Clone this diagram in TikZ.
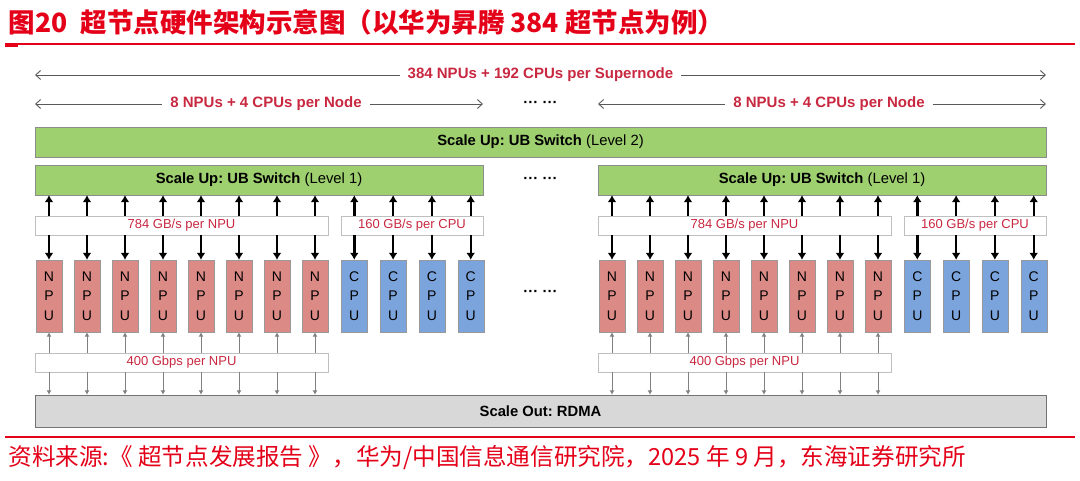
\documentclass[tikz,border=0pt]{standalone}
\usepackage{fontspec}
\setmainfont{Liberation Sans}
\newfontfamily\cjk{Noto Sans CJK SC}
\usetikzlibrary{arrows.meta}
\frenchspacing

\definecolor{titlered}{RGB}{228,0,24}
\definecolor{labelred}{RGB}{200,40,64}
\definecolor{switchgreen}{RGB}{158,208,112}
\definecolor{npured}{RGB}{219,138,134}
\definecolor{cpublue}{RGB}{124,164,220}
\definecolor{rdmagray}{RGB}{216,216,216}

\tikzset{
  switchbox/.style={draw=black!45, fill=switchgreen, minimum height=30pt, inner sep=0pt,
    font=\fontsize{14.8}{16}\selectfont},
  npubox/.style={draw=black!40, fill=npured, minimum width=26pt, minimum height=72pt,
    inner sep=0pt, align=center, font=\fontsize{14}{19.5}\selectfont},
  cpubox/.style={npubox, fill=cpublue},
  bwbox/.style={draw=black!25, fill=white, minimum height=19pt, inner sep=0pt,
    text=labelred, font=\fontsize{13}{14}\selectfont},
  spanlabel/.style={text=labelred, inner xsep=8pt, font=\bfseries\fontsize{15}{16}\selectfont},
  busarrow/.style={line width=2.4pt, -{Latex[length=7pt,width=9pt]}},
  outarrow/.style={draw=black!50, line width=1pt, -{Latex[length=4.5pt,width=5pt]}},
  spanarrow/.style={draw=black!65, line width=0.9pt, -{Straight Barb[length=5pt,width=9pt]}},
  dotsnode/.style={font=\bfseries\fontsize{15}{16}\selectfont}
}

\begin{document}
\begin{tikzpicture}[x=1pt, y=-1pt]
\useasboundingbox (0,0) rectangle (1080,481);

% heading and source
\node[anchor=west, text=titlered, font=\cjk\bfseries\fontsize{26.5}{28}\selectfont] (title) at (5,22)
  {图20\enspace 超节点硬件架构示意图（以华为昇腾 384 超节点为例）};
\draw[titlered, line width=1.5pt] (5,44) -- (1075,44);
\draw[titlered, line width=3pt] (5,46) -- (18,46);
\draw[titlered, line width=1.5pt] (5,437) -- (1075,437);
\node[anchor=west, text=titlered, font=\cjk\fontsize{23.6}{26}\selectfont] (source) at (5,458)
  {资料来源:《 超节点发展报告 》，华为/中国信息通信研究院，2025 年 9 月，东海证券研究所};

% spans
\coordinate (superW) at (35,75);
\coordinate (superE) at (1046,75);
\node[spanlabel] (super) at (540.5,75) {384 NPUs + 192 CPUs per Supernode};
\draw[spanarrow] (super.west) -- (superW);
\draw[spanarrow] (super.east) -- (superE);
\node[dotsnode] (dotsA) at (540.5,104) {··· ···};

% shared switch and RDMA
\node[switchbox, minimum width=1011pt] (sw2) at (540.5,142)
  {\textbf{Scale Up: UB Switch} (Level 2)};
\node[switchbox, draw=black!55, fill=rdmagray, minimum width=1011pt, minimum height=32pt] (rdma) at (540.5,411)
  {\textbf{Scale Out: RDMA}};
\node[dotsnode] (dotsB) at (540.5,180) {··· ···};
\node[dotsnode] (dotsC) at (540.5,293) {··· ···};

\foreach \g/\off in {L/0, R/563} {
  \coordinate (node\g W) at ({\off+35},104);
  \coordinate (node\g E) at ({\off+483},104);
  \node[spanlabel] (node\g) at ({\off+266},104) {8 NPUs + 4 CPUs per Node};
  \draw[spanarrow] (node\g.west) -- (node\g W);
  \draw[spanarrow] (node\g.east) -- (node\g E);
  \node[switchbox, minimum width=448pt] (sw\g) at ({\off+259},180)
    {\textbf{Scale Up: UB Switch} (Level 1)};
  \node[bwbox, minimum width=293pt] (bwnpu\g) at ({\off+181.5},225.5) {784 GB/s per NPU};
  \node[bwbox, minimum width=142pt] (bwcpu\g) at ({\off+412},225.5) {160 GB/s per CPU};
  \node[bwbox, minimum width=293pt] (bwout\g) at ({\off+181.5},362.5) {400 Gbps per NPU};
  \foreach \k in {1,...,8} {
    \node[npubox] (npu\g\k) at ({\off+11+38*\k},296) {N\\P\\U};
    \draw[busarrow] (npu\g\k.north |- bwnpu\g.north) -- (npu\g\k.north |- sw\g.south);
    \draw[busarrow] (npu\g\k.north |- bwnpu\g.south) -- (npu\g\k.north);
    \draw[outarrow] (npu\g\k.south |- bwout\g.north) -- (npu\g\k.south);
    \draw[outarrow] (npu\g\k.south |- bwout\g.south) -- (npu\g\k.south |- rdma.north);
  }
  \foreach \k in {1,...,4} {
    \node[cpubox] (cpu\g\k) at ({\off+315.5+38.8*\k},296) {C\\P\\U};
    \draw[busarrow] (cpu\g\k.north |- bwcpu\g.north) -- (cpu\g\k.north |- sw\g.south);
    \draw[busarrow] (cpu\g\k.north |- bwcpu\g.south) -- (cpu\g\k.north);
  }
}
\end{tikzpicture}
\end{document}
